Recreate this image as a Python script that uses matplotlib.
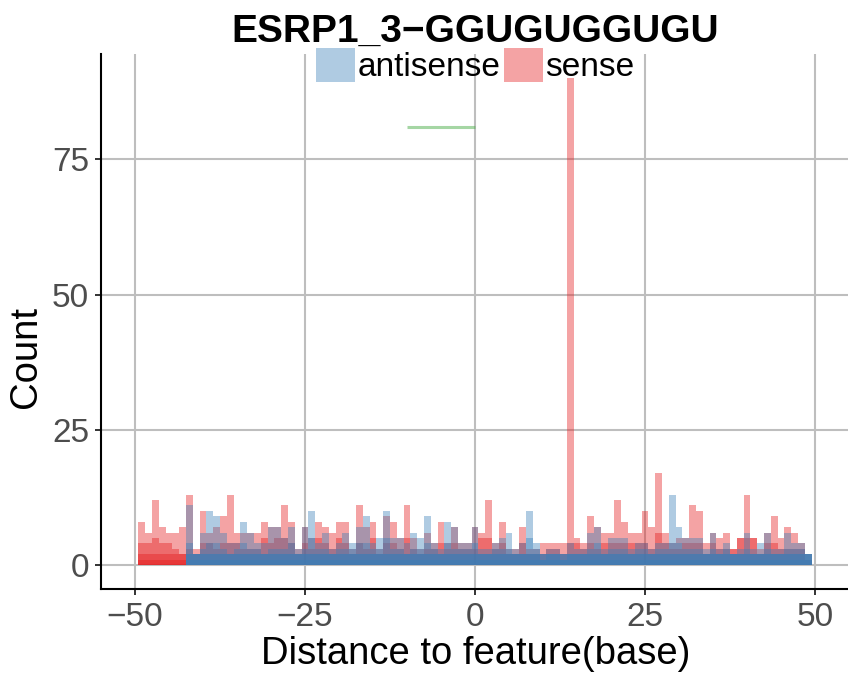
import numpy as np
import matplotlib.pyplot as plt
from matplotlib.patches import Patch

plt.rcParams['font.family'] = ['Liberation Sans', 'DejaVu Sans']

# distance to feature, one bar per base
dist = np.arange(-49, 50)

# sense counts (several overlapping rows per position)
sense_top = [8, 6, 12, 7, 6, 6, 7, 13, 3, 10,
             6, 7, 9, 13, 6, 6, 6, 6, 8, 7,
             7, 11, 8, 3, 7, 5, 8, 7, 6, 8,
             8, 3, 11, 7, 8, 3, 9, 8, 5, 11,
             5, 3, 6, 4, 8, 4, 7, 4, 4, 7,
             6, 12, 4, 8, 3, 3, 7, 3, 3, 4,
             4, 4, 4, 90, 5, 4, 9, 7, 6, 6,
             12, 8, 6, 6, 10, 7, 17, 6, 4, 5,
             5, 11, 10, 4, 6, 5, 6, 3, 5, 13,
             5, 3, 6, 9, 5, 7, 6, 4, 2]
sense_mid = [4, 4, 5, 4, 4, 3, 2, 3, 2, 4,
             4, 3, 4, 4, 4, 3, 3, 3, 5, 4,
             5, 5, 4, 2, 4, 3, 5, 4, 3, 5,
             4, 2, 4, 3, 5, 2, 4, 4, 3, 5,
             3, 2, 3, 3, 4, 3, 4, 3, 3, 3,
             5, 5, 3, 4, 2, 2, 4, 2, 2, 2,
             3, 3, 2, 4, 4, 3, 4, 3, 4, 4,
             4, 4, 4, 4, 4, 3, 6, 4, 3, 3,
             4, 4, 4, 2, 4, 3, 3, 3, 5, 5,
             5, 2, 4, 4, 3, 3, 3, 3, 1]
sense_base = [2] * 7 + [0] * 92
sense_low = [1] * 7 + [0] * 92

# antisense counts
anti_top = [0, 0, 0, 0, 0, 0, 0, 11, 2, 6,
            10, 9, 6, 4, 4, 8, 6, 4, 4, 7,
            7, 5, 7, 3, 7, 10, 4, 6, 3, 4,
            6, 4, 7, 9, 4, 5, 10, 5, 5, 4,
            6, 5, 9, 4, 3, 8, 7, 4, 4, 7,
            3, 3, 4, 5, 6, 3, 4, 10, 4, 2,
            3, 3, 2, 4, 3, 3, 6, 7, 3, 5,
            5, 5, 3, 4, 4, 3, 4, 4, 13, 7,
            5, 5, 5, 3, 6, 3, 4, 2, 3, 6,
            3, 4, 6, 3, 3, 6, 4, 4, 2]
anti_mid = [0, 0, 0, 0, 0, 0, 0, 4, 2, 3,
            4, 4, 3, 2, 3, 4, 3, 3, 2, 3,
            3, 3, 4, 2, 3, 5, 3, 3, 2, 3,
            3, 3, 4, 4, 3, 3, 5, 3, 3, 2,
            3, 3, 4, 3, 2, 4, 3, 3, 3, 4,
            2, 2, 3, 3, 3, 2, 2, 5, 3, 1,
            2, 2, 1, 2, 2, 2, 3, 4, 2, 3,
            3, 3, 2, 3, 3, 2, 3, 3, 4, 4,
            3, 3, 3, 2, 3, 2, 3, 2, 2, 3,
            2, 2, 3, 2, 2, 3, 3, 3, 2]
anti_base = [0] * 7 + [2] * 92
anti_base2 = [0] * 7 + [2] * 92
anti_low = [0] * 7 + [1] * 92

# motif segment
motif_x = [-10, 0]
motif_y = [81, 81]

red = '#E41A1C'
blue = '#377EB8'
green = '#4DAF4A'

fig = plt.figure(figsize=(8.48, 6.78), dpi=100)
ax = fig.add_axes([101 / 848, 1 - 589.3 / 678, 747 / 848, (589.3 - 54) / 678])

for h in [sense_top, sense_mid, sense_base, sense_low]:
    ax.bar(dist, h, width=1, color=red, alpha=0.4, linewidth=0, antialiased=False)
for h in [anti_top, anti_mid, anti_base, anti_base2, anti_low]:
    ax.bar(dist, h, width=1, color=blue, alpha=0.4, linewidth=0, antialiased=False)
ax.plot(motif_x, motif_y, color=green, alpha=0.5, linewidth=2.2, solid_capstyle='butt')

ax.set_xlim(-55, 54.85)
ax.set_ylim(-4.5, 94.5)
ax.set_xticks([-50, -25, 0, 25, 50])
ax.set_xticklabels(['\u221250', '\u221225', '0', '25', '50'])
ax.set_yticks([0, 25, 50, 75])
ax.set_axisbelow(True)
ax.grid(True, color='#BEBEBE', linewidth=1.5)
for s in ['top', 'right']:
    ax.spines[s].set_visible(False)
for s in ['left', 'bottom']:
    ax.spines[s].set_linewidth(1.5)
    ax.spines[s].set_color('black')
ax.tick_params(labelsize=24, labelcolor='#4D4D4D', color='#333333',
               length=4.3, width=1.4)
ax.tick_params(axis='y', pad=4.3)
ax.tick_params(axis='x', pad=5)

fig.text(475.5 / 848, 1 - 42 / 678, 'ESRP1_3\u2212GGUGUGGUGU', fontsize=28,
         fontweight='bold', ha='center', va='baseline')
fig.text(476 / 848, 1 - 664 / 678, 'Distance to feature(base)', fontsize=27.5,
         ha='center', va='baseline')
fig.text(26 / 848, 321 / 678, 'Count', fontsize=27.5, rotation=90,
         ha='center', va='center')

handles = [Patch(facecolor=blue, alpha=0.4, linewidth=0),
           Patch(facecolor=red, alpha=0.4, linewidth=0)]
fig.legend(handles, ['antisense', 'sense'], ncol=2, frameon=False, fontsize=24,
           loc='center', bbox_to_anchor=(475.5 / 848, 1 - 65.5 / 678),
           handlelength=1.17, handleheight=1.17, handletextpad=0.06,
           columnspacing=0.12, borderpad=0, borderaxespad=0)

plt.savefig('out.png', dpi=100)
